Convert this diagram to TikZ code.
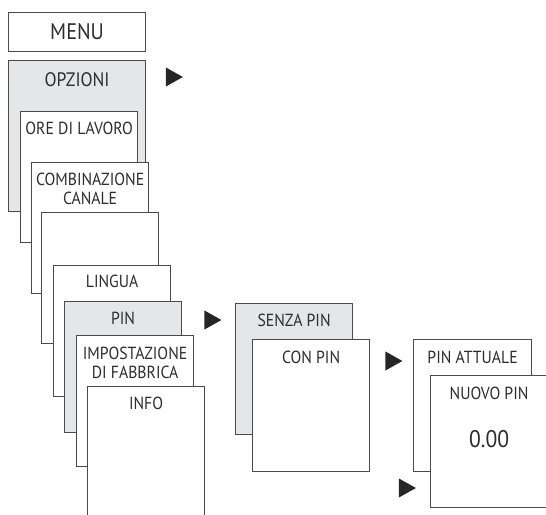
\documentclass[tikz,border=0pt]{standalone}
\usepackage{fontspec}
\setmainfont[FakeStretch=0.9]{PT Sans}
\usetikzlibrary{shapes.geometric, positioning}
\definecolor{framecolor}{RGB}{75,75,75}
\definecolor{selcolor}{RGB}{229,230,232}
\definecolor{inkcolor}{RGB}{45,45,45}

\begin{document}
\begin{tikzpicture}[
    x=1pt, y=-1pt,
    screen/.style={draw=framecolor, line width=1.2pt, fill=#1, anchor=north west,
        minimum width=117pt, minimum height=131pt, inner sep=0pt},
    screen/.default=white,
    caption/.style={inner sep=0pt, text=inkcolor, align=center,
        font=\fontsize{17.5}{18.5}\selectfont},
    pointer/.style={isosceles triangle, isosceles triangle stretches, fill=black!85,
        minimum width=19pt, minimum height=17pt, inner sep=0pt}
]
    \clip (0,0) rectangle (546,514);
    \useasboundingbox (0,0) rectangle (546,514);

    % Menu header
    \node[screen, minimum width=137pt, minimum height=39pt] (menu) at (8,12) {};
    \node[caption, font=\fontsize{22.5}{25}\selectfont] (menut) at (menu.center) {MENU};

    % Options column
    \node[screen=selcolor, minimum width=137pt, minimum height=151pt] (opz) at (8,60) {};
    \node[caption, font=\fontsize{19.5}{21}\selectfont, below=12pt of opz.north] (opzt) {OPZIONI};
    \node[pointer] (popz) at (171.5,77) {};

    \node[screen] (ore) at (20,111) {};
    \node[caption, below=11pt of ore.north] (oret) {ORE DI LAVORO};

    \node[screen] (comb) at (31,162) {};
    \node[caption, below=11pt of comb.north] (combt) {COMBINAZIONE\\CANALE};

    \node[screen] (blank) at (41,212) {};

    \node[screen] (ling) at (53,265) {};
    \node[caption, below=10pt of ling.north] (lingt) {LINGUA};

    \node[screen=selcolor] (pin) at (64,301) {};
    \node[caption, below=11pt of pin.north] (pint) {PIN};
    \node[pointer] (ppin) at (210,320) {};

    \node[screen] (imp) at (76,335) {};
    \node[caption, below=12pt of imp.north] (impt) {IMPOSTAZIONE\\DI FABBRICA};

    \node[screen, minimum height=140pt] (info) at (87,386) {};
    \node[caption, below=11pt of info.north] (infot) {INFO};

    % PIN submenu
    \node[screen=selcolor] (senza) at (235,303) {};
    \node[caption, below=11pt of senza.north] (senzat) {SENZA PIN};

    \node[screen, minimum height=132pt] (con) at (252,339) {};
    \node[caption, below=12pt of con.north] (cont) {CON PIN};
    \node[pointer] (pcon) at (391,361) {};

    % New PIN entry
    \node[screen, minimum width=118pt, minimum height=132pt] (att) at (413,339) {};
    \node[caption, below=12pt of att.north] (attt) {PIN ATTUALE};

    \node[screen, minimum height=132pt] (nuovo) at (430,375) {};
    \node[caption, below=12pt of nuovo.north] (nuovot) {NUOVO PIN};
    \node[caption, font=\fontsize{24}{27}\selectfont, below=55pt of nuovo.north] (valt) {0.00};
    \node[pointer] (pnuovo) at (404.5,488) {};
\end{tikzpicture}
\end{document}
